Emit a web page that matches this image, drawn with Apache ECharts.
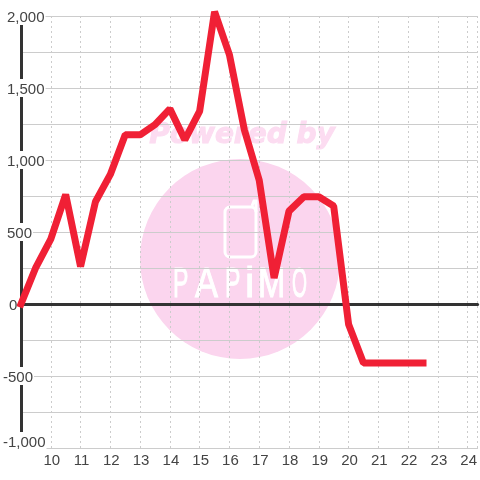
<!DOCTYPE html>
<html style="height: 100%">

<head>
  <meta charset="utf-8">
  <script src="https://cdn.jsdelivr.net/npm/echarts@6/dist/echarts.min.js"></script>
</head>

<body style="height: 100%; margin: 0; background: #fff">
  <div id="container" style="width: 480px; height: 480px"></div>
  <script type="text/javascript">
    // half-hour steps starting at 9
    var hours = [9, 9.5, 10, 10.5, 11, 11.5, 12, 12.5, 13, 13.5, 14, 14.5, 15, 15.5, 16, 16.5, 17, 17.5, 18, 18.5, 19, 19.5, 20, 20.5, 21, 21.5, 22, 22.5];
    var values = [0, 255, 450, 760, 260, 710, 900, 1175, 1175, 1245, 1355, 1140, 1340, 2030, 1730, 1210, 860, 180, 645, 745, 745, 680, -140, -410, -410, -410, -410, -410];
    var pairs = hours.map(function (h, i) { return [h, values[i]]; });

    var textColor = '#444';
    var gridColor = '#ccc';
    var dark = '#333';

    // watermark logo letters
    var logoLetters = ['P', 'A', 'P', 'i', 'M', 'O'];
    var logoLeft = [173, 195, 225, 245, 258, 292];
    var logoScale = [0.55, 0.82, 0.55, 1, 0.78, 0.46];

    var myChart = echarts.init(document.getElementById('container'));

    // one rich style per kind of y label, they do not share a left edge in the picture
    function labelStyle(left, bottom) {
      return {
        color: textColor,
        fontFamily: 'Liberation Sans',
        fontSize: 15,
        padding: [3, 1, bottom, left]
      };
    }

    var logoText = logoLetters.map(function (ch, i) {
      return {
        type: 'text',
        z: -9,
        x: logoLeft[i],
        y: 306,
        scaleX: logoScale[i],
        style: {
          x: 0, y: 0, text: ch, align: 'left', verticalAlign: 'bottom',
          font: '42px "Liberation Sans"', fill: '#fff', stroke: '#fff', lineWidth: 1
        }
      };
    });

    var option = {
      animation: false,
      grid: { left: 20, right: 0, top: 16, bottom: 32 },
      xAxis: [{
        type: 'value',
        min: 9,
        max: 24.333,
        interval: 1,
        axisLine: { onZero: false, lineStyle: { color: gridColor, width: 1 } },
        axisTick: { show: false },
        axisLabel: {
          color: textColor,
          fontFamily: 'Liberation Sans',
          fontSize: 15,
          margin: 5,
          padding: [0, 0, 0, 2],
          showMinLabel: false,
          showMaxLabel: false
        },
        splitLine: { lineStyle: { color: gridColor, type: [2, 3], width: 1 } }
      }, {
        // dark line at zero
        type: 'value',
        min: 9,
        max: 24.333,
        axisLine: { onZero: true, lineStyle: { color: dark, width: 3 } },
        axisTick: { show: false },
        axisLabel: { show: false },
        splitLine: { show: false }
      }],
      yAxis: {
        type: 'value',
        min: -1000,
        max: 2000,
        interval: 250,
        axisLine: { show: true, onZero: false, lineStyle: { color: dark, width: 3 } },
        axisTick: { show: false },
        axisLabel: {
          inside: true,
          margin: -18,
          align: 'left',
          backgroundColor: '#fff',
          formatter: function (v) {
            if (v % 500 !== 0) return '';
            var s = echarts.format.addCommas(v);
            if (v === -1000) return '{low|' + s + '}';
            if (v < 0) return '{neg|' + s + '}';
            if (v === 0) return '{zero|' + s + '}';
            return '{pos|' + s + '}';
          },
          rich: {
            pos: labelStyle(4, 0),
            zero: labelStyle(6, 0),
            neg: labelStyle(0, 0),
            low: labelStyle(0, 14)
          }
        },
        splitLine: { lineStyle: { color: gridColor, width: 1 } }
      },
      series: [{
        type: 'line',
        data: pairs,
        symbol: 'none',
        clip: false,
        z: 5,
        lineStyle: { color: '#f02035', width: 7, cap: 'square', join: 'bevel' }
      }],
      graphic: [{
        type: 'circle',
        z: -10,
        shape: { cx: 240, cy: 259, r: 100 },
        style: { fill: '#fbd5ee' }
      }, {
        // phone body
        type: 'rect',
        z: -9,
        shape: { x: 225, y: 207, width: 31, height: 50, r: 5 },
        style: { fill: 'none', stroke: '#fff', lineWidth: 3 }
      }, {
        // phone aerial
        type: 'polyline',
        z: -9,
        shape: { points: [[252, 206], [254, 201], [256, 201], [256, 212]] },
        style: { fill: 'none', stroke: '#fff', lineWidth: 3 }
      }, {
        type: 'text',
        z: -9,
        style: { x: 242, y: 136, text: 'Powered by', align: 'center', verticalAlign: 'middle', font: 'italic bold 28px "DejaVu Sans"', fill: '#fcdcf1', stroke: '#fcdcf1', lineWidth: 1 }
      }].concat(logoText)
    };
    myChart.setOption(option);
  </script>
</body>

</html>
